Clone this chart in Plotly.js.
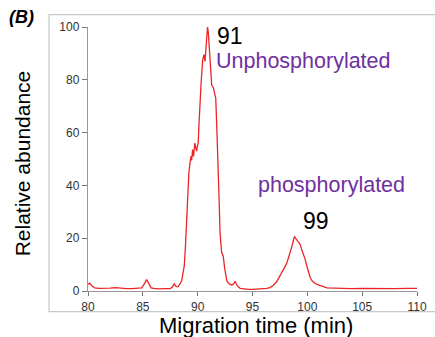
<!DOCTYPE html>
<html>
<head>
<meta charset="utf-8">
<script src="https://cdn.plot.ly/plotly-3.0.1.min.js"></script>
<style>html,body{margin:0;padding:0;background:#fff;}#chart{width:435px;height:337px;}</style>
</head>
<body>
<div id="chart"></div>
<script>
const migrationTime = [80.0,80.15,80.35,80.6,81.0,81.5,82.0,82.5,83.0,83.5,84.0,84.5,84.9,85.15,85.35,85.55,85.75,86.0,86.5,87.0,87.5,87.7,87.86,88.0,88.2,88.4,88.55,88.65,88.78,88.9,89.0,89.1,89.2,89.3,89.38,89.45,89.54,89.62,89.7,89.75,89.84,89.91,89.98,90.05,90.13,90.21,90.33,90.46,90.52,90.58,90.67,90.75,90.82,90.9,90.97,91.05,91.12,91.2,91.28,91.43,91.55,91.65,91.76,91.88,91.96,92.04,92.12,92.19,92.27,92.34,92.45,92.55,92.65,92.8,92.96,93.14,93.3,93.41,93.5,93.6,93.87,94.2,94.6,95.0,95.5,96.0,96.3,96.6,96.9,97.2,97.5,97.8,98.0,98.14,98.3,98.45,98.6,98.75,98.83,98.92,99.0,99.1,99.2,99.35,99.5,99.65,99.8,100.0,100.15,100.27,100.45,100.65,100.88,101.3,101.8,102.5,103.0,104.0,105.0,106.0,107.0,108.0,109.0,110.0];
const abundance = [2.5,3.0,2.0,1.2,1.0,1.0,1.1,1.3,1.0,0.9,0.9,1.0,1.2,2.8,4.3,2.8,1.2,1.0,0.8,0.9,0.9,1.5,2.7,1.8,1.6,2.8,4.0,6.5,9.5,18,28,38,45,48.5,51,49.5,53.6,51,54,56,54,53,55,56,64,72.5,80,87.6,89,89.5,87,93,99,100,98,93,89,83,78,77,75,73,60,48,34,22,16,14.5,14,13,9,6,4,3,2.5,2.3,2.8,3.7,3,2,1,0.7,0.6,0.6,0.7,0.8,1.0,1.3,2.2,3.5,5.6,7.8,9.5,10.7,12.6,15,17,19.5,20.7,20,19.3,19,18.5,17.6,15.5,13.8,12,8.8,6.5,5,3.8,3,2.5,1.8,1.2,1.1,1.0,0.9,1.0,0.9,1.0,0.9,1.0,1.0];
const xTicks = [80,85,90,95,100,105,110];
const yTicks = [0,20,40,60,80,100];
const peakLabels = ["91","99"];
const peakLabelX = [91.55,100.75];
const peakLabelY = [96.5,26.5];
const formLabels = ["Unphosphorylated","phosphorylated"];
const formLabelX = [91.45,95.3];
const formLabelY = [87.2,40];

const trace = {
  x: migrationTime, y: abundance, type: 'scatter', mode: 'lines',
  line: {color: 'rgb(236,36,40)', width: 1.3}, hoverinfo: 'skip'
};
const sans = 'Liberation Sans, Arial, sans-serif';
const tickFont = {family: '"Liberation Sans Narrow", "Liberation Sans", Arial, sans-serif', size: 12, color: '#333'};
const annotations = [];
for (let i = 0; i < peakLabels.length; i++) {
  annotations.push({x: peakLabelX[i], y: peakLabelY[i], xref: 'x', yref: 'y', text: peakLabels[i], showarrow: false,
    xanchor: i === 0 ? 'left' : 'center', yanchor: 'middle', font: {family: sans, size: 23, color: '#000'}});
}
for (let i = 0; i < formLabels.length; i++) {
  annotations.push({x: formLabelX[i], y: formLabelY[i], xref: 'x', yref: 'y', text: formLabels[i], showarrow: false,
    xanchor: 'left', yanchor: 'middle', font: {family: sans, size: 21.5, color: '#7030a0'}});
}
annotations.push({x: -0.245, y: 1.038, xref: 'paper', yref: 'paper', text: '<b><i>(B)</i></b>', showarrow: false,
  xanchor: 'left', yanchor: 'middle', font: {family: sans, size: 18, color: '#000'}});
annotations.push({x: -0.198, y: 0.483, xref: 'paper', yref: 'paper', text: 'Relative abundance', showarrow: false,
  textangle: -90, xanchor: 'center', yanchor: 'middle', font: {family: sans, size: 21, color: '#000'}});
annotations.push({x: 0.51, y: -0.078, xref: 'paper', yref: 'paper', text: 'Migration time (min)', showarrow: false,
  xanchor: 'center', yanchor: 'top', borderpad: 0, font: {family: sans, size: 22, color: '#000'}});

const layout = {
  width: 435, height: 337,
  margin: {l: 88, r: 18, t: 27, b: 45.5, pad: 0},
  paper_bgcolor: '#fff', plot_bgcolor: '#fff',
  showlegend: false,
  xaxis: {range: [80, 110], tickvals: xTicks, ticktext: xTicks.map(String), showgrid: false, zeroline: false,
    showline: true, linecolor: '#999', linewidth: 1.2, ticks: 'outside', ticklen: 4, tickcolor: '#777',
    tickfont: tickFont},
  yaxis: {range: [0, 100], tickvals: yTicks, ticktext: yTicks.map(String), showgrid: false, zeroline: false,
    showline: true, linecolor: '#999', linewidth: 1.2, ticks: 'outside', ticklen: 5, tickcolor: '#777',
    tickfont: tickFont},
  shapes: [{type: 'rect', xref: 'paper', yref: 'paper', x0: -0.1185, x1: 1.06, y0: -0.078, y1: 1.047,
    line: {color: '#c8c8c8', width: 1.2}, fillcolor: 'rgba(0,0,0,0)', layer: 'below'}],
  annotations: annotations
};
Plotly.newPlot('chart', [trace], layout, {staticPlot: true, displayModeBar: false});
</script>
</body>
</html>
